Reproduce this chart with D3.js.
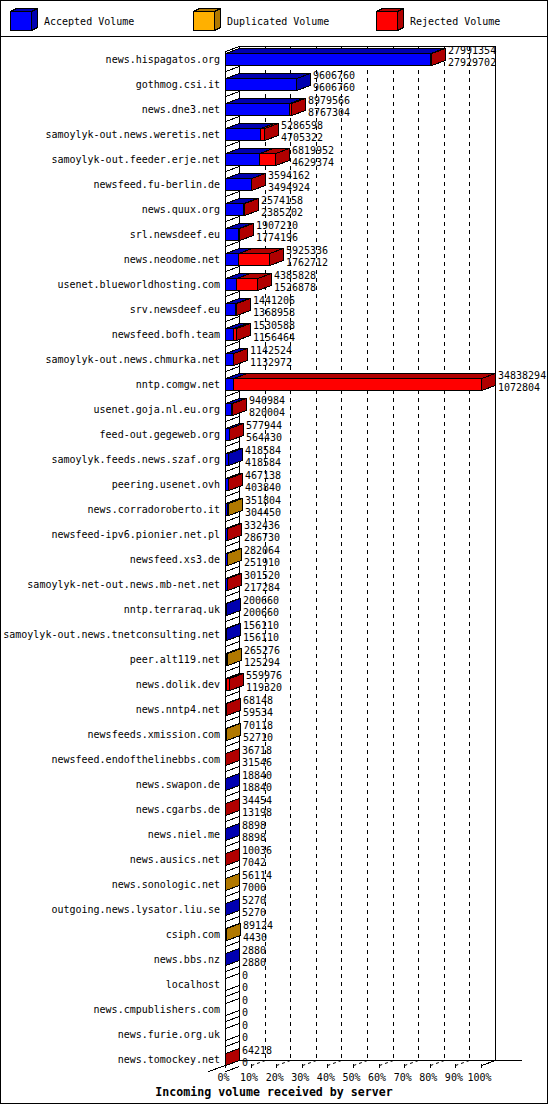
<!DOCTYPE html>
<html>
<head>
<meta charset="utf-8">
<script src="https://cdn.jsdelivr.net/npm/d3@7"></script>
<style>
  body { margin: 0; background: #fff; }
  text { font-family: "DejaVu Sans Mono", monospace; font-size: 10px; fill: #000; }
</style>
</head>
<body>
<div class="chart"></div>
<script>
// Servers, sorted by accepted volume (as in the report)
var servers = [
    "news.hispagatos.org", "gothmog.csi.it", "news.dne3.net",
    "samoylyk-out.news.weretis.net", "samoylyk-out.feeder.erje.net",
    "newsfeed.fu-berlin.de", "news.quux.org", "srl.newsdeef.eu",
    "news.neodome.net", "usenet.blueworldhosting.com", "srv.newsdeef.eu",
    "newsfeed.bofh.team", "samoylyk-out.news.chmurka.net", "nntp.comgw.net",
    "usenet.goja.nl.eu.org", "feed-out.gegeweb.org", "samoylyk.feeds.news.szaf.org",
    "peering.usenet.ovh", "news.corradoroberto.it", "newsfeed-ipv6.pionier.net.pl",
    "newsfeed.xs3.de", "samoylyk-net-out.news.mb-net.net", "nntp.terraraq.uk",
    "samoylyk-out.news.tnetconsulting.net", "peer.alt119.net", "news.dolik.dev",
    "news.nntp4.net", "newsfeeds.xmission.com", "newsfeed.endofthelinebbs.com",
    "news.swapon.de", "news.cgarbs.de", "news.niel.me", "news.ausics.net",
    "news.sonologic.net", "outgoing.news.lysator.liu.se", "csiph.com",
    "news.bbs.nz", "localhost", "news.cmpublishers.com", "news.furie.org.uk",
    "news.tomockey.net"
];

var totalVolume = [
    27991354, 9606760, 8979566, 5286598, 6819952, 3594162, 2574158, 1907210,
    5925336, 4385828, 1441206, 1530588, 1142524, 34838294, 940984, 577944,
    418584, 467138, 351804, 332436, 282064, 301520, 200660, 156110, 265276,
    559976, 68148, 70118, 36718, 18840, 34454, 8898, 10036, 56114, 5270,
    89124, 2880, 0, 0, 0, 64218
];

var acceptedVolume = [
    27929702, 9606760, 8767304, 4705322, 4629374, 3494924, 2385202, 1774196,
    1762712, 1526878, 1368958, 1156464, 1132972, 1072804, 820004, 564430,
    418584, 403840, 304450, 286730, 251910, 217284, 200660, 156110, 125294,
    119320, 59534, 52710, 31546, 18840, 13198, 8898, 7042, 7000, 5270,
    4430, 2880, 0, 0, 0, 0
];

var duplicatedVolume = [
    0, 0, 0, 0, 0, 0, 0, 0, 0, 0, 0, 0, 0, 0, 0, 0,
    0, 0, 47354, 0, 30154, 0, 0, 0, 139982,
    0, 0, 17408, 0, 0, 0, 0, 0, 49114, 0,
    84694, 0, 0, 0, 0, 0
];

var rejectedVolume = [
    61652, 0, 212262, 581276, 2190578, 99238, 188956, 133014,
    4162624, 2858950, 72248, 374124, 9552, 33765490, 120980, 13514,
    0, 63298, 0, 45706, 0, 84236, 0, 0, 0,
    440656, 8614, 0, 5172, 0, 21256, 0, 2994, 0, 0,
    0, 0, 0, 0, 0, 64218
];

var tickLabels = ["0%", "10%", "20%", "30%", "40%", "50%", "60%", "70%", "80%", "90%", "100%"];
var legendLabels = ["Accepted Volume", "Duplicated Volume", "Rejected Volume"];

var faceColors = ["#0000ff", "#ffb000", "#ff0000"];
var darkColors = ["#0000b0", "#b07800", "#b00000"];

var svgWidth = 550;
var svgHeight = 1105;
var depthX = 14;
var depthY = 5;
var halfBar = 6;

var plot = { front: 225, right: 481, top: 46, bottom: 1060 };

var svg = d3.select(".chart")
    .append("svg")
    .attr("width", svgWidth)
    .attr("height", svgHeight)
    .attr("shape-rendering", "crispEdges");

var xScale = d3.scaleLinear()
    .domain([0, d3.max(totalVolume)])
    .range([plot.front, plot.right]);

var yScale = d3.scalePoint()
    .domain(servers)
    .range([59, 1059]);

function px(v) { return Math.round(v) + 0.5; }

function pts(list) {
    return list.map(function(p) { return px(p[0]) + "," + px(p[1]); }).join(" ");
}

// one 3d box: front face, top face, side face
function drawBox(g, x0, x1, yt, yb, front, dark, dx, dy) {
    g.append("polygon")
        .attr("points", pts([[x0, yt], [x1, yt], [x1, yb], [x0, yb]]))
        .attr("fill", front).attr("stroke", "#000");
    g.append("polygon")
        .attr("points", pts([[x0, yt], [x1, yt], [x1 + dx, yt - dy], [x0 + dx, yt - dy]]))
        .attr("fill", dark).attr("stroke", "#000");
    g.append("polygon")
        .attr("points", pts([[x1, yt], [x1 + dx, yt - dy], [x1 + dx, yb - dy], [x1, yb]]))
        .attr("fill", dark).attr("stroke", "#000");
}

// outer border and legend separator
svg.append("rect")
    .attr("x", 0.5).attr("y", 0.5)
    .attr("width", 547).attr("height", 1103)
    .attr("fill", "none").attr("stroke", "#000");

svg.append("line")
    .attr("x1", 0).attr("x2", 548)
    .attr("y1", 36.5).attr("y2", 36.5)
    .attr("stroke", "#000");

// legend
var legend = svg.append("g");
legendLabels.forEach(function(label, i) {
    var lx = 10 + i * 183;
    drawBox(legend, lx, lx + 21, 11, 30, faceColors[i], darkColors[i], 6, 3);
    legend.append("text")
        .attr("x", lx + 34)
        .attr("y", 25)
        .text(label);
});

// back wall, grid and left wall
var frame = svg.append("g").attr("stroke", "#000").attr("fill", "none");
var backLeft = plot.front + depthX;
var backRight = plot.right + depthX;

tickLabels.forEach(function(t, i) {
    if (i === 0 || i === tickLabels.length - 1) return;
    var fx = xScale(d3.max(totalVolume) * i / 10);
    frame.append("line")
        .attr("x1", px(fx + depthX)).attr("x2", px(fx + depthX))
        .attr("y1", plot.top).attr("y2", plot.bottom)
        .attr("stroke-dasharray", "4,4");
    frame.append("line")
        .attr("x1", px(fx + depthX)).attr("y1", px(plot.bottom))
        .attr("x2", px(fx)).attr("y2", px(plot.bottom + depthY))
        .attr("stroke-dasharray", "3,3")
        .attr("shape-rendering", "auto");
});

frame.append("polyline")
    .attr("points", pts([[backLeft, plot.bottom], [backLeft, plot.top], [backRight, plot.top], [backRight, plot.bottom]]));
frame.append("line")
    .attr("x1", px(backLeft)).attr("x2", 522)
    .attr("y1", px(plot.bottom)).attr("y2", px(plot.bottom));
frame.append("polyline")
    .attr("points", pts([[backLeft, plot.top], [plot.front, plot.top + depthY], [plot.front, plot.bottom + depthY]]));
frame.append("line")
    .attr("x1", px(backLeft)).attr("y1", px(plot.bottom))
    .attr("x2", px(208)).attr("y2", px(plot.bottom + 11));
frame.append("line")
    .attr("x1", px(backRight)).attr("y1", px(plot.bottom))
    .attr("x2", px(plot.right)).attr("y2", px(plot.bottom + depthY));

// row lines on the left wall
servers.forEach(function(s) {
    var c = yScale(s);
    frame.append("line")
        .attr("x1", px(plot.front)).attr("y1", px(c + 12))
        .attr("x2", px(backLeft)).attr("y2", px(c + 7));
});

// bars
var bars = svg.append("g");
servers.forEach(function(s, i) {
    var c = yScale(s);
    var g = bars.append("g");
    var parts = [acceptedVolume[i], duplicatedVolume[i], rejectedVolume[i]];
    var cum = 0;
    if (totalVolume[i] === 0) {
        g.append("polygon")
            .attr("points", pts([[plot.front, c - halfBar], [plot.front + depthX, c - halfBar - depthY],
                [plot.front + depthX, c + halfBar - depthY], [plot.front, c + halfBar]]))
            .attr("fill", "#fff").attr("stroke", "#000");
    }
    parts.forEach(function(v, k) {
        if (v <= 0) return;
        var x0 = Math.round(xScale(cum));
        cum += v;
        var x1 = Math.round(xScale(cum));
        drawBox(g, x0, x1, c - halfBar, c + halfBar, faceColors[k], darkColors[k], depthX, depthY);
    });
});

// server names
svg.append("g").selectAll("text")
    .data(servers)
    .enter()
    .append("text")
    .attr("x", 220)
    .attr("y", function(d) { return yScale(d) + 4; })
    .attr("text-anchor", "end")
    .text(function(d) { return d; });

// values: total on top, accepted below
var valueLabels = svg.append("g");
servers.forEach(function(s, i) {
    var c = yScale(s);
    var vx = Math.round(xScale(totalVolume[i])) + depthX + 3;
    valueLabels.append("text").attr("x", vx).attr("y", c - 5).text(totalVolume[i]);
    valueLabels.append("text").attr("x", vx).attr("y", c + 7).text(acceptedVolume[i]);
});

// percent axis
var xAxis = d3.axisBottom(xScale)
    .tickValues(tickLabels.map(function(t, i) { return d3.max(totalVolume) * i / 10; }))
    .tickFormat(function(d, i) { return tickLabels[i]; })
    .tickSize(4)
    .tickPadding(6);

var axisG = svg.append("g")
    .attr("transform", "translate(0, 1064)")
    .call(xAxis);
axisG.select(".domain").remove();
axisG.attr("font-family", "DejaVu Sans Mono").attr("font-size", 10);
axisG.selectAll("line").attr("stroke", "#000");
axisG.selectAll("text").attr("fill", "#000").attr("dx", -2);

// title
svg.append("text")
    .attr("x", 274)
    .attr("y", 1096)
    .attr("text-anchor", "middle")
    .style("font-weight", "bold")
    .style("font-size", "11.6px")
    .text("Incoming volume received by server");
</script>
</body>
</html>
